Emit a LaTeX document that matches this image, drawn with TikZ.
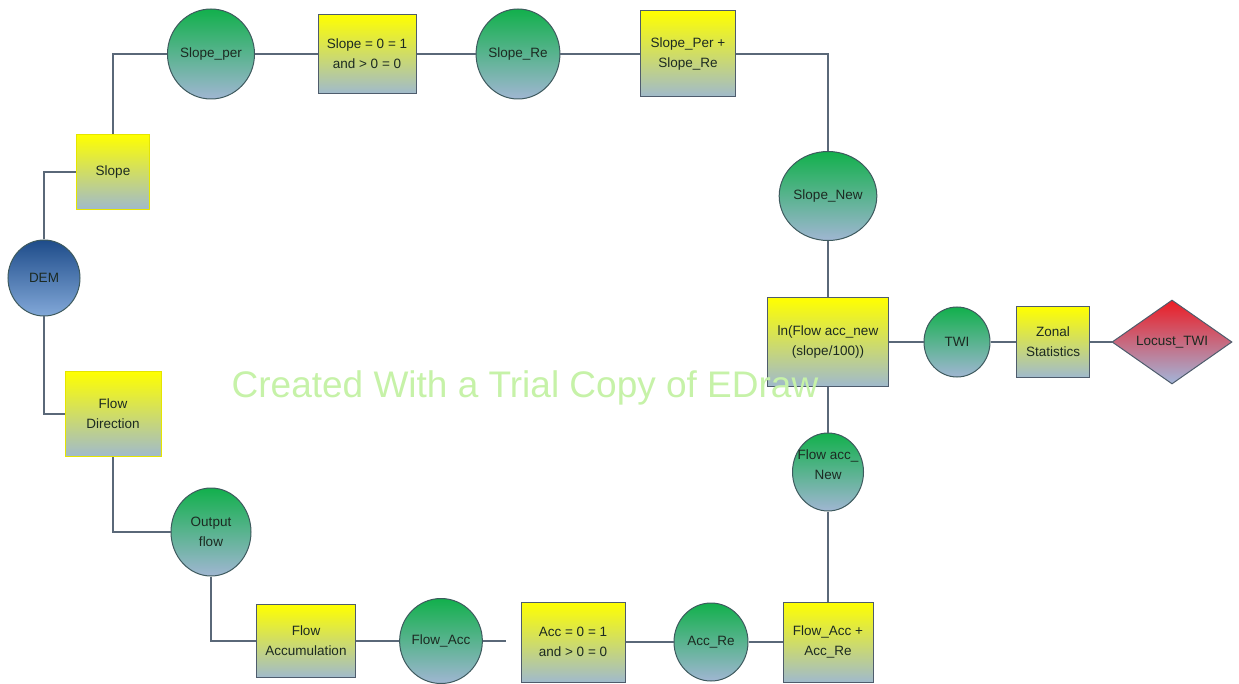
\documentclass[tikz,border=0pt]{standalone}
\usepackage{fontspec}
\setmainfont{Liberation Sans}
\usetikzlibrary{shapes.geometric}
\definecolor{edgecol}{HTML}{5A6878}
\definecolor{boxline}{HTML}{4E5C6C}
\definecolor{yel}{HTML}{FFFF00}
\definecolor{yelmid}{HTML}{E8E850}
\definecolor{boxbot}{HTML}{A0BACC}
\definecolor{grtop}{HTML}{12B04C}
\definecolor{grmid}{HTML}{3AA878}
\definecolor{grbot}{HTML}{A0B6D2}
\definecolor{circline}{HTML}{3E5A5E}
\definecolor{demtop}{HTML}{1E4C8A}
\definecolor{dembot}{HTML}{82A8D8}
\definecolor{redtop}{HTML}{EC1C24}
\definecolor{redmid}{HTML}{D8485A}
\definecolor{redbot}{HTML}{A2B6DA}
\definecolor{txt}{HTML}{1C2A22}
\definecolor{wmark}{HTML}{C6F2A8}
\tikzset{
  lbl/.style={font=\fontsize{13.5}{20}\selectfont, text=txt, align=center, inner sep=0pt},
  procbox/.style={lbl, rectangle, draw=boxline, line width=1pt, top color=yel, middle color=yelmid, bottom color=boxbot},
  yprocbox/.style={procbox, draw=yel!90!black},
  datacirc/.style={lbl, ellipse, draw=circline, line width=1pt, top color=grtop, middle color=grmid, bottom color=grbot},
  demcirc/.style={lbl, ellipse, draw=circline, line width=1pt, top color=demtop, bottom color=dembot},
  outdiam/.style={lbl, diamond, draw=boxline, line width=1pt, top color=redtop, middle color=redmid, bottom color=redbot},
  conn/.style={draw=edgecol, line width=1.2pt}
}
\begin{document}
\begin{tikzpicture}[x=1pt,y=-1pt]
\useasboundingbox (0,0) rectangle (1239,684);
% nodes
\node[demcirc, minimum width=72pt, minimum height=76pt] (dem) at (44,278) {DEM};
\node[yprocbox, minimum width=73pt, minimum height=75pt] (slope) at (113,172) {Slope};
\node[datacirc, minimum width=85pt, minimum height=90pt] (sper) at (211,54) {Slope\_per};
\node[procbox, minimum width=98pt, minimum height=79pt] (b1) at (367,54) {Slope = 0 = 1\\and > 0 = 0};
\node[datacirc, minimum width=83pt, minimum height=90pt] (sre) at (518,54) {Slope\_Re};
\node[procbox, minimum width=95pt, minimum height=86pt] (b2) at (688,54) {Slope\_Per +\\Slope\_Re};
\node[datacirc, minimum width=82pt, minimum height=89pt] (snew) at (828,196) {Slope\_New};
\node[procbox, minimum width=121pt, minimum height=88pt] (ln) at (828,342) {ln(Flow acc\_new\\(slope/100))};
\node[datacirc, minimum width=66pt, minimum height=70pt] (twi) at (957,342) {TWI};
\node[procbox, minimum width=73pt, minimum height=70pt] (zonal) at (1053,342) {Zonal\\Statistics};
\node[outdiam, minimum width=120pt, minimum height=58pt] (locust) at (1172,342) {Locust\_TWI};
\node[datacirc, minimum width=71pt, minimum height=78pt] (faccnew) at (828,472) {};
\node[lbl] (faccnewtxt) at (828,465) {Flow acc\_\\New};
\node[yprocbox, minimum width=96pt, minimum height=85pt] (fdir) at (113,414) {Flow\\Direction};
\node[datacirc, minimum width=80pt, minimum height=88pt] (outflow) at (211,532) {Output\\flow};
\node[procbox, minimum width=99pt, minimum height=73pt] (faccum) at (306,641) {Flow\\Accumulation};
\node[datacirc, minimum width=80pt, minimum height=85pt] (flowacc) at (441,641) {Flow\_Acc};
\node[procbox, minimum width=104pt, minimum height=80pt] (accbox) at (573,642) {Acc = 0 = 1\\and > 0 = 0};
\node[datacirc, minimum width=74pt, minimum height=78pt] (accre) at (711,642) {Acc\_Re};
\node[procbox, minimum width=90pt, minimum height=80pt] (b3) at (828,642) {Flow\_Acc +\\Acc\_Re};
\coordinate (gapend) at (506,641);
% connectors
\draw[conn] (dem.north) |- (slope.west);
\draw[conn] (slope.north) |- (sper.west);
\draw[conn] (sper) -- (b1);
\draw[conn] (b1) -- (sre);
\draw[conn] (sre) -- (b2);
\draw[conn] (b2.east) -| (snew.north);
\draw[conn] (snew) -- (ln);
\draw[conn] (ln) -- (twi);
\draw[conn] (twi) -- (zonal);
\draw[conn] (zonal) -- (locust);
\draw[conn] (ln) -- (faccnew);
\draw[conn] (faccnew) -- (b3);
\draw[conn] (dem.south) |- (fdir.west);
\draw[conn] (fdir.south) |- (outflow.west);
\draw[conn] (outflow.south) |- (faccum.west);
\draw[conn] (faccum) -- (flowacc);
\draw[conn] (flowacc.east) -- (gapend);
\draw[conn] (accbox) -- (accre);
\draw[conn] (accre) -- (b3);
% watermark
\node[font=\fontsize{37}{40}\selectfont, text=wmark, anchor=base, inner sep=0pt] (wm) at (525,397) {Created With a Trial Copy of EDraw};
\end{tikzpicture}
\end{document}
